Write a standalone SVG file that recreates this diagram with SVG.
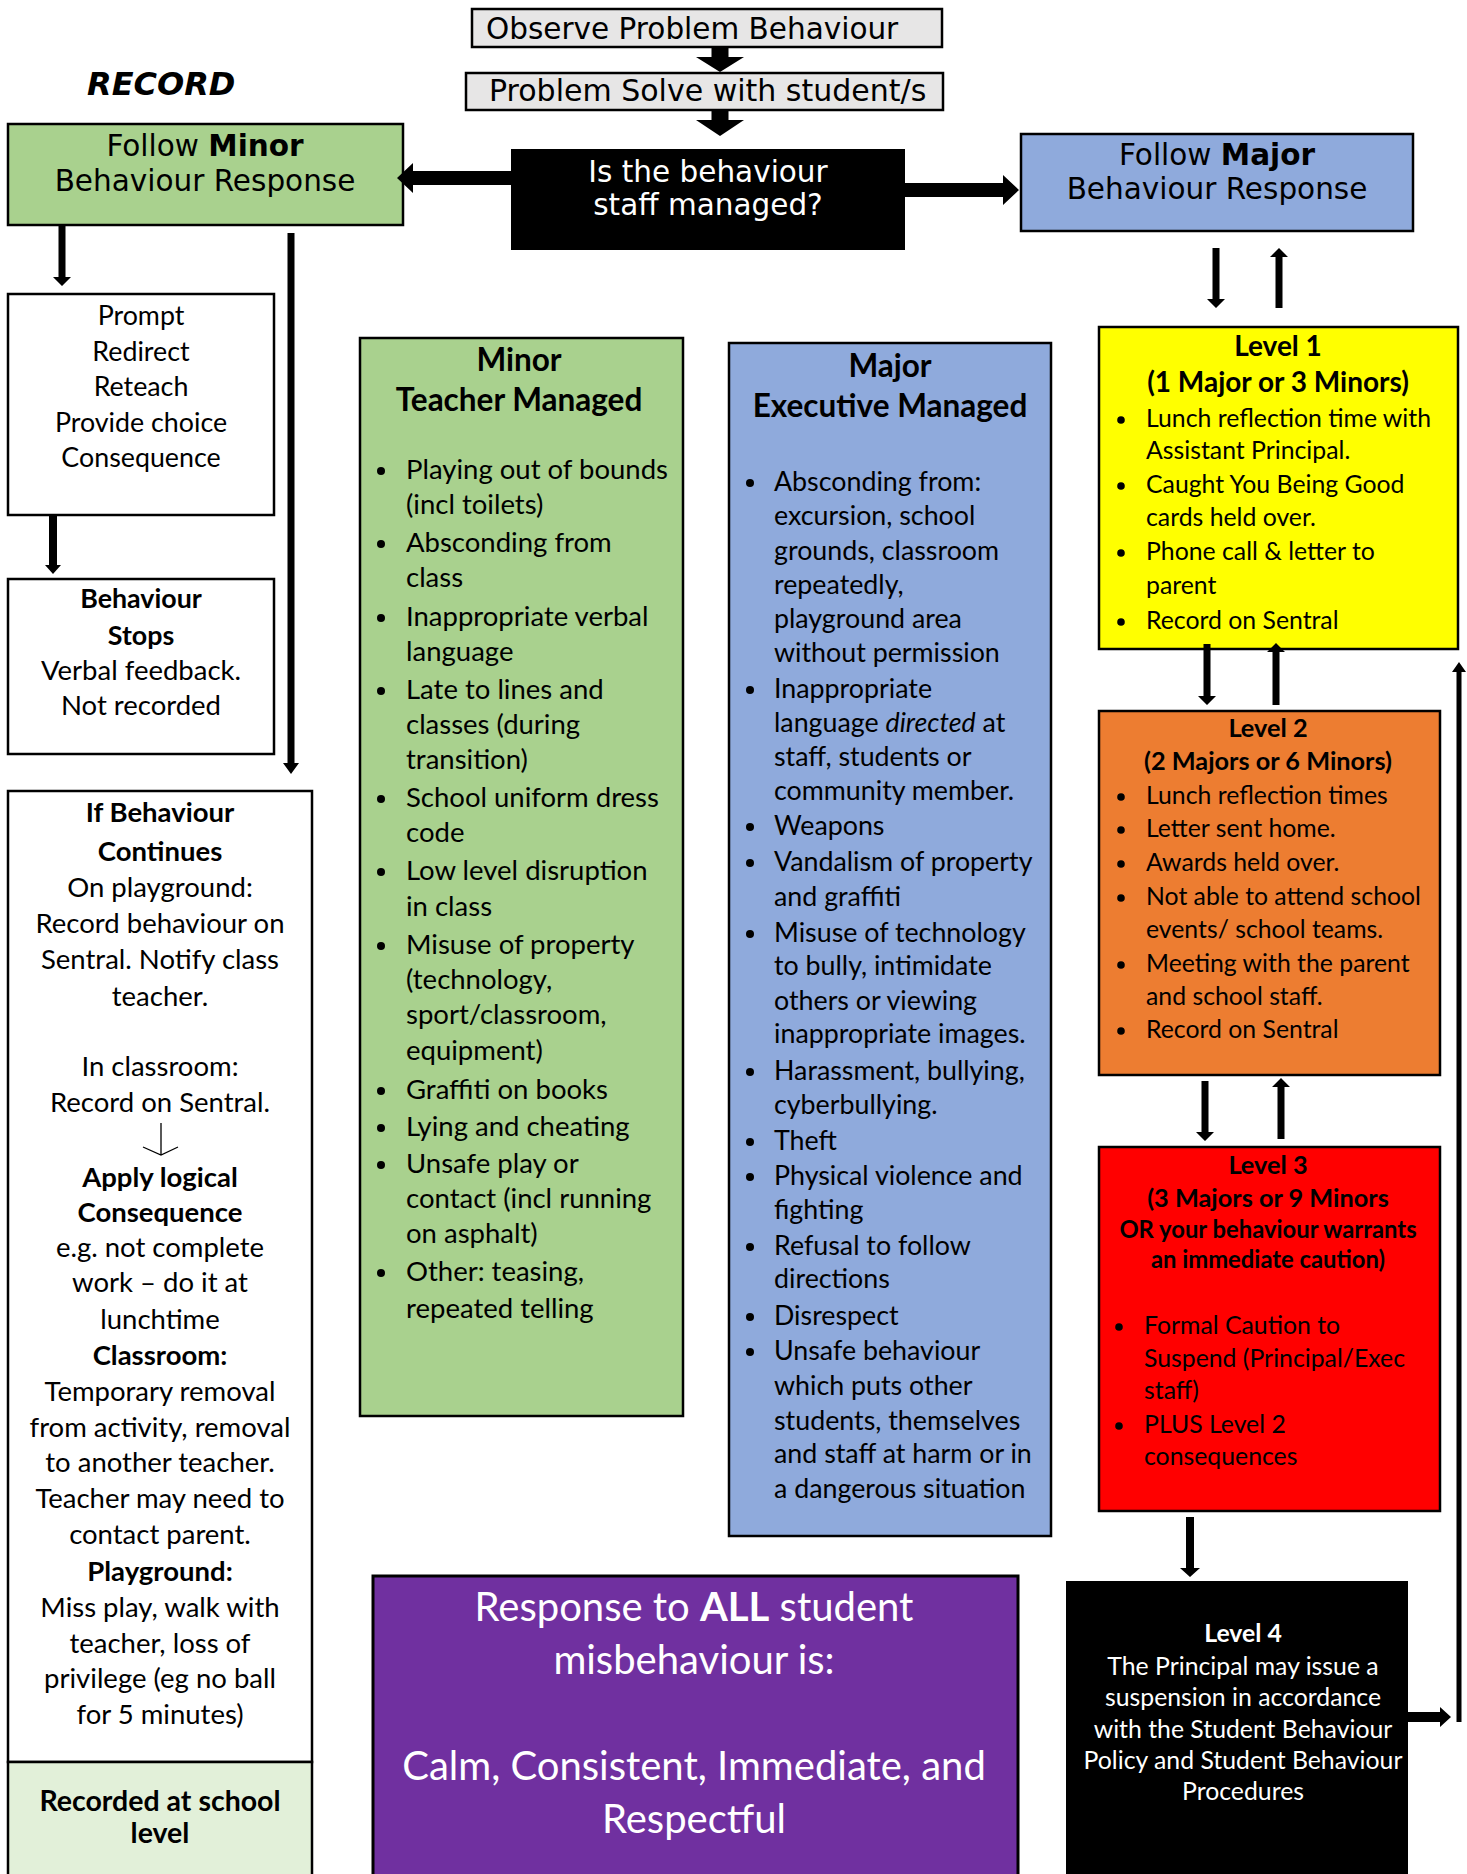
<svg xmlns="http://www.w3.org/2000/svg" width="1467" height="1874" viewBox="0 0 1467 1874">
<style>
.v{font-family:"DejaVu Sans",Verdana,sans-serif;font-size:29.5px;fill:#000}
.t{font-family:Lato,"Noto Sans",sans-serif;fill:#000}
.m{text-anchor:middle}
.b{font-weight:bold}
.w{fill:#fff}
.f27{font-size:27.5px}
.f26{font-size:26.8px}
.f24{font-size:24.8px}
.h30{font-size:31.5px;font-weight:bold}
.h26{font-size:28px;font-weight:bold}
.h24{font-size:25.3px;font-weight:bold}
.h23{font-size:23.8px;font-weight:bold}
.big{font-size:40px}
.box{stroke:#000;stroke-width:2.5}
.ln{fill:#000;stroke:none}
</style>
<g id="record"><text class="v b" x="87" y="95" style="font-style:italic;font-size:32px">RECORD</text></g>
<g id="observe"><rect class="box" x="472" y="9" width="470" height="38" fill="#E7E6E6" stroke-width="3"/><text class="v" x="486" y="39">Observe Problem Behaviour</text></g>
<g id="solve"><rect class="box" x="466" y="73" width="477" height="37" fill="#E7E6E6" stroke-width="3"/><text class="v" x="489" y="101" style="font-size:30px">Problem Solve with student/s</text></g>
<g id="decision"><rect x="511" y="149" width="394" height="101" fill="#000"/><text class="v m w" x="708" y="182">Is the behaviour</text><text class="v m w" x="708" y="215">staff managed?</text></g>
<g id="followMinor"><rect class="box" x="8" y="124" width="395" height="101" fill="#A9D18E" stroke-width="3"/><text class="v m" x="205" y="156">Follow <tspan font-weight="bold">Minor</tspan></text><text class="v m" x="205" y="191">Behaviour Response</text></g>
<g id="followMajor"><rect class="box" x="1021" y="134" width="392" height="97" fill="#8FAADC" stroke-width="3"/><text class="v m" x="1217" y="165">Follow <tspan font-weight="bold">Major</tspan></text><text class="v m" x="1217" y="199">Behaviour Response</text></g>
<g id="prompt"><rect class="box" x="8" y="294" width="266" height="221" fill="#fff"/>
<text class="t f26 m" x="141" y="325">Prompt</text><text class="t f26 m" x="141" y="361">Redirect</text><text class="t f26 m" x="141" y="396">Reteach</text><text class="t f26 m" x="141" y="432">Provide choice</text><text class="t f26 m" x="141" y="467">Consequence</text></g>
<g id="stops"><rect class="box" x="8" y="579" width="266" height="175" fill="#fff"/>
<text class="t f26 m b" x="141" y="608">Behaviour</text><text class="t f26 m b" x="141" y="645">Stops</text><text class="t f27 m" x="141" y="680">Verbal feedback.</text><text class="t f27 m" x="141" y="715">Not recorded</text></g>
<g id="continues"><rect class="box" x="8" y="791" width="304" height="971" fill="#fff"/>
<g class="t f27">
<text class="m b" x="160" y="822">If Behaviour</text>
<text class="m b" x="160" y="861">Continues</text>
<text class="m" x="160" y="897">On playground:</text>
<text class="m" x="160" y="933">Record behaviour on</text>
<text class="m" x="160" y="969">Sentral. Notify class</text>
<text class="m" x="160" y="1006">teacher.</text>
<text class="m" x="160" y="1076">In classroom:</text>
<text class="m" x="160" y="1112">Record on Sentral.</text>
<text class="m b" x="160" y="1187">Apply logical</text>
<text class="m b" x="160" y="1222">Consequence</text>
<text class="m" x="160" y="1257">e.g. not complete</text>
<text class="m" x="160" y="1292">work – do it at</text>
<text class="m" x="160" y="1329">lunchtime</text>
<text class="m b" x="160" y="1365">Classroom:</text>
<text class="m" x="160" y="1401">Temporary removal</text>
<text class="m" x="160" y="1437">from activity, removal</text>
<text class="m" x="160" y="1472">to another teacher.</text>
<text class="m" x="160" y="1508">Teacher may need to</text>
<text class="m" x="160" y="1544">contact parent.</text>
<text class="m b" x="160" y="1581">Playground:</text>
<text class="m" x="160" y="1617">Miss play, walk with</text>
<text class="m" x="160" y="1653">teacher, loss of</text>
<text class="m" x="160" y="1688">privilege (eg no ball</text>
<text class="m" x="160" y="1724">for 5 minutes)</text>
</g>
<path d="M161 1123V1155M143 1147L161 1155L178 1147" fill="none" stroke="#000" stroke-width="1.3"/>
</g>
<g id="recorded"><rect class="box" x="8" y="1762" width="304" height="130" fill="#E2F0D9"/>
<text class="t m b" x="160" y="1811" style="font-size:28.5px">Recorded at school</text><text class="t m b" x="160" y="1843" style="font-size:28.5px">level</text></g>
<g id="minor"><rect class="box" x="360" y="338" width="323" height="1078" fill="#A9D18E"/>
<text class="t h30 m" x="519" y="371">Minor</text><text class="t h30 m" x="519" y="411">Teacher Managed</text>
<g class="t f27">
<text x="406" y="479">Playing out of bounds</text>
<text x="406" y="514">(incl toilets)</text>
<text x="406" y="552">Absconding from</text>
<text x="406" y="587">class</text>
<text x="406" y="626">Inappropriate verbal</text>
<text x="406" y="661">language</text>
<text x="406" y="699">Late to lines and</text>
<text x="406" y="734">classes (during</text>
<text x="406" y="769">transition)</text>
<text x="406" y="807">School uniform dress</text>
<text x="406" y="842">code</text>
<text x="406" y="880">Low level disruption</text>
<text x="406" y="916">in class</text>
<text x="406" y="954">Misuse of property</text>
<text x="406" y="989">(technology,</text>
<text x="406" y="1024">sport/classroom,</text>
<text x="406" y="1060">equipment)</text>
<text x="406" y="1099">Graffiti on books</text>
<text x="406" y="1136">Lying and cheating</text>
<text x="406" y="1173">Unsafe play or</text>
<text x="406" y="1208">contact (incl running</text>
<text x="406" y="1243">on asphalt)</text>
<text x="406" y="1281">Other: teasing,</text>
<text x="406" y="1318">repeated telling</text>
</g>
<g fill="#000"><circle cx="381" cy="471" r="4"/><circle cx="381" cy="544" r="4"/><circle cx="381" cy="618" r="4"/><circle cx="381" cy="691" r="4"/><circle cx="381" cy="799" r="4"/><circle cx="381" cy="872" r="4"/><circle cx="381" cy="946" r="4"/><circle cx="381" cy="1091" r="4"/><circle cx="381" cy="1128" r="4"/><circle cx="381" cy="1165" r="4"/><circle cx="381" cy="1273" r="4"/></g>
</g>
<g id="major"><rect class="box" x="729" y="343" width="322" height="1193" fill="#8FAADC"/>
<text class="t h30 m" x="890" y="377">Major</text><text class="t h30 m" x="890" y="417">Executive Managed</text>
<g class="t f26">
<text x="774" y="491">Absconding from:</text>
<text x="774" y="525">excursion, school</text>
<text x="774" y="560">grounds, classroom</text>
<text x="774" y="594">repeatedly,</text>
<text x="774" y="628">playground area</text>
<text x="774" y="662">without permission</text>
<text x="774" y="698">Inappropriate</text>
<text x="774" y="732">language <tspan font-style="italic">directed</tspan> at</text>
<text x="774" y="766">staff, students or</text>
<text x="774" y="800">community member.</text>
<text x="774" y="835">Weapons</text>
<text x="774" y="871">Vandalism of property</text>
<text x="774" y="906">and graffiti</text>
<text x="774" y="942">Misuse of technology</text>
<text x="774" y="975">to bully, intimidate</text>
<text x="774" y="1010">others or viewing</text>
<text x="774" y="1043">inappropriate images.</text>
<text x="774" y="1080">Harassment, bullying,</text>
<text x="774" y="1114">cyberbullying.</text>
<text x="774" y="1150">Theft</text>
<text x="774" y="1185">Physical violence and</text>
<text x="774" y="1219">fighting</text>
<text x="774" y="1255">Refusal to follow</text>
<text x="774" y="1288">directions</text>
<text x="774" y="1325">Disrespect</text>
<text x="774" y="1360">Unsafe behaviour</text>
<text x="774" y="1395">which puts other</text>
<text x="774" y="1430">students, themselves</text>
<text x="774" y="1463">and staff at harm or in</text>
<text x="774" y="1498">a dangerous situation</text>
</g>
<g fill="#000"><circle cx="750" cy="483" r="4"/><circle cx="750" cy="690" r="4"/><circle cx="750" cy="827" r="4"/><circle cx="750" cy="863" r="4"/><circle cx="750" cy="934" r="4"/><circle cx="750" cy="1072" r="4"/><circle cx="750" cy="1142" r="4"/><circle cx="750" cy="1177" r="4"/><circle cx="750" cy="1247" r="4"/><circle cx="750" cy="1317" r="4"/><circle cx="750" cy="1352" r="4"/></g>
</g>
<g id="level1"><rect class="box" x="1099" y="327" width="359" height="322" fill="#FFFF00" stroke-width="3"/>
<text class="t h26 m" x="1278" y="356">Level 1</text><text class="t h26 m" x="1278" y="392">(1 Major or 3 Minors)</text>
<g class="t f24">
<text x="1146" y="427">Lunch reflection time with</text>
<text x="1146" y="459">Assistant Principal.</text>
<text x="1146" y="493">Caught You Being Good</text>
<text x="1146" y="526">cards held over.</text>
<text x="1146" y="560">Phone call &amp; letter to</text>
<text x="1146" y="594">parent</text>
<text x="1146" y="629">Record on Sentral</text>
</g>
<g fill="#000"><circle cx="1121" cy="420" r="3.8"/><circle cx="1121" cy="486" r="3.8"/><circle cx="1121" cy="553" r="3.8"/><circle cx="1121" cy="622" r="3.8"/></g>
</g>
<g id="level2"><rect class="box" x="1099" y="711" width="341" height="364" fill="#ED7D31" stroke-width="3"/>
<text class="t h24 m" x="1268" y="737">Level 2</text><text class="t h24 m" x="1268" y="770">(2 Majors or 6 Minors)</text>
<g class="t f24">
<text x="1146" y="804">Lunch reflection times</text>
<text x="1146" y="837">Letter sent home.</text>
<text x="1146" y="871">Awards held over.</text>
<text x="1146" y="905">Not able to attend school</text>
<text x="1146" y="938">events/ school teams.</text>
<text x="1146" y="972">Meeting with the parent</text>
<text x="1146" y="1005">and school staff.</text>
<text x="1146" y="1038">Record on Sentral</text>
</g>
<g fill="#000"><circle cx="1121" cy="797" r="3.8"/><circle cx="1121" cy="830" r="3.8"/><circle cx="1121" cy="864" r="3.8"/><circle cx="1121" cy="898" r="3.8"/><circle cx="1121" cy="965" r="3.8"/><circle cx="1121" cy="1031" r="3.8"/></g>
</g>
<g id="level3"><rect class="box" x="1099" y="1147" width="341" height="364" fill="#FF0000" stroke-width="3"/>
<text class="t h24 m" x="1268" y="1174">Level 3</text><text class="t h24 m" x="1268" y="1207">(3 Majors or 9 Minors</text><text class="t h23 m" x="1268" y="1238">OR your behaviour warrants</text><text class="t h23 m" x="1268" y="1268">an immediate caution)</text>
<g class="t f24">
<text x="1144" y="1334">Formal Caution to</text>
<text x="1144" y="1367">Suspend (Principal/Exec</text>
<text x="1144" y="1399">staff)</text>
<text x="1144" y="1433">PLUS Level 2</text>
<text x="1144" y="1465">consequences</text>
</g>
<g fill="#000"><circle cx="1119" cy="1327" r="3.8"/><circle cx="1119" cy="1426" r="3.8"/></g>
</g>
<g id="level4"><rect x="1066" y="1581" width="342" height="300" fill="#000"/>
<g class="t f24 w">
<text class="m b" x="1243" y="1642">Level 4</text>
<text class="m" x="1243" y="1675">The Principal may issue a</text>
<text class="m" x="1243" y="1706">suspension in accordance</text>
<text class="m" x="1243" y="1738">with the Student Behaviour</text>
<text class="m" x="1243" y="1769">Policy and Student Behaviour</text>
<text class="m" x="1243" y="1800">Procedures</text>
</g></g>
<g id="response"><rect x="373" y="1576" width="645" height="310" fill="#7030A0" stroke="#000" stroke-width="3"/>
<g class="t big w">
<text class="m" x="694" y="1621">Response to <tspan font-weight="bold">ALL</tspan> student</text>
<text class="m" x="694" y="1674">misbehaviour is:</text>
<text class="m" x="694" y="1780">Calm, Consistent, Immediate, and</text>
<text class="m" x="694" y="1833">Respectful</text>
</g></g>
<g id="connectors" class="ln">
<path d="M711.5 47H728.5V57H744L720 72L696 57H711.5Z"/>
<path d="M711.5 110H728.5V120H744L720 136L696 120H711.5Z"/>
<path d="M511 171V185H413V193L397 178L413 163V171Z"/>
<path d="M905 183V197H1003V205L1019 190L1003 175V183Z"/>
<path d="M58.5 225H65.5V277H71L62 286L53 277H58.5Z"/>
<path d="M287.5 233H294.5V763H299L291 774L283 763H287.5Z"/>
<path d="M49 515H57V565H61L53 574L45 565H49Z"/>
<path d="M1212.5 248H1219.5V299H1225L1216 308L1207 299H1212.5Z"/>
<path d="M1275.5 308H1282.5V257H1288L1279 248L1270 257H1275.5Z"/>
<path d="M1203.5 644H1210.5V696H1216L1207 705L1198 696H1203.5Z"/>
<path d="M1272.5 705H1279.5V652H1285L1276 643L1267 652H1272.5Z"/>
<path d="M1201.5 1081H1208.5V1132H1214L1205 1141L1196 1132H1201.5Z"/>
<path d="M1277.5 1139H1284.5V1087H1290L1281 1078L1272 1087H1277.5Z"/>
<path d="M1186 1517H1194V1568H1200L1190 1577L1180 1568H1186Z"/>
<path d="M1408 1712H1440V1707L1451 1717L1440 1727V1722H1408Z"/>
<path d="M1456.5 1722H1461.5V672H1466L1459 662L1452 672H1456.5Z"/>
</g>
</svg>
